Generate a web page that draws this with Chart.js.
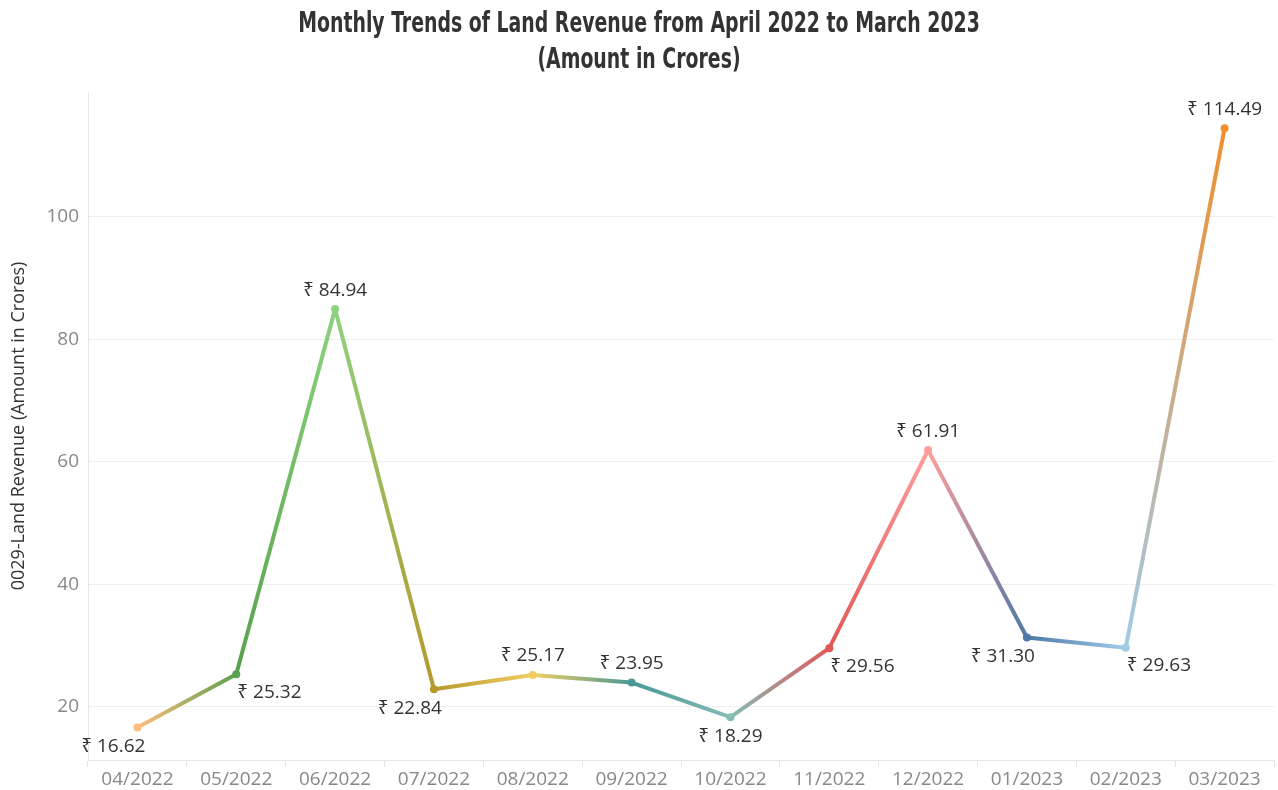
<!DOCTYPE html>
<html>
<head>
<meta charset="utf-8">
<script src="https://cdn.jsdelivr.net/npm/chart.js@4"></script>
<style>
  html,body{margin:0;padding:0;background:#fff;}
  #wrap{width:1278px;height:790px;}
</style>
</head>
<body>
<div id="wrap"><canvas id="mainChart" width="1278" height="790"></canvas></div>
<script>
const months = ['04/2022','05/2022','06/2022','07/2022','08/2022','09/2022','10/2022','11/2022','12/2022','01/2023','02/2023','03/2023'];
const revenue = [16.62, 25.32, 84.94, 22.84, 25.17, 23.95, 18.29, 29.56, 61.91, 31.30, 29.63, 114.49];
const yTicks = [20, 40, 60, 80, 100];
const yMin = 11.3, yMax = 120.4;
const titleLines = ['Monthly Trends of Land Revenue from April 2022 to March 2023','(Amount in Crores)'];

// one colour per month, segments blend between neighbours
const monthColors = ['#ffbe7d','#59a14f','#8cd17d','#b6992d','#f1ce63','#499894','#86bcb6','#e15759','#ff9d9a','#4e79a7','#a0cbe8','#f28e2b'];
// where each value label sits: t = above, b = below, bl = below left, br = below right
const labelSide = ['bl','br','t','bl','t','t','b','br','t','bl','br','t'];

const canvas = document.getElementById('mainChart');
const c2d = canvas.getContext('2d');
const textFamily = '"Open Sans", "Noto Sans", sans-serif';

const valueLabels = {
  id:'valueLabels',
  afterDatasetsDraw(chart){
    const ctx = chart.ctx;
    const meta = chart.getDatasetMeta(0);
    ctx.save();
    ctx.font = '19px ' + textFamily;
    ctx.fillStyle = '#333';
    ctx.textBaseline = 'middle';
    meta.data.forEach((pt,i)=>{
      const txt = '₹ ' + revenue[i].toFixed(2);
      const side = labelSide[i];
      let x = pt.x, y = pt.y;
      if(side==='t'){ ctx.textAlign='center'; y -= 19; }
      else if(side==='b'){ ctx.textAlign='center'; y += 19; }
      else if(side==='br'){ ctx.textAlign='left'; x += 1; y += 18; }
      else { ctx.textAlign='right'; x += 8; y += 19; }
      ctx.fillText(txt, x, y);
    });
    ctx.restore();
  }
};

// condensed bold title, squeezed horizontally
const narrowTitle = {
  id:'narrowTitle',
  afterDraw(chart){
    const ctx = chart.ctx;
    ctx.save();
    ctx.font = 'bold 28px "DejaVu Sans Condensed", "DejaVu Sans", sans-serif';
    ctx.fillStyle = '#333';
    ctx.textAlign = 'center';
    ctx.textBaseline = 'middle';
    const cx = chart.width/2;
    ctx.translate(cx, 0);
    ctx.scale(0.75, 1);
    ctx.fillText(titleLines[0], 0, 25);
    ctx.fillText(titleLines[1], 0, 61);
    ctx.restore();
  }
};

new Chart(canvas,{
  type:'line',
  data:{
    labels:months,
    datasets:[{
      data:revenue,
      borderWidth:4,
      pointRadius:4,
      pointHoverRadius:4,
      pointBackgroundColor:monthColors,
      pointBorderColor:monthColors,
      pointBorderWidth:0,
      tension:0,
      segment:{
        borderColor:c=>{
          const g = c2d.createLinearGradient(c.p0.x,c.p0.y,c.p1.x,c.p1.y);
          g.addColorStop(0, monthColors[c.p0DataIndex]);
          g.addColorStop(1, monthColors[c.p1DataIndex]);
          return g;
        }
      }
    }]
  },
  options:{
    responsive:false,
    animation:false,
    layout:{padding:{right:2,left:0,top:92,bottom:0}},
    plugins:{
      legend:{display:false},
      tooltip:{enabled:false},
      title:{display:false}
    },
    scales:{
      x:{
        offset:true,
        grid:{display:true, drawOnChartArea:false, drawTicks:true, tickLength:7, color:'#e6e6e6', offset:true},
        border:{display:true, color:'#e6e6e6'},
        ticks:{color:'#888', font:{family:textFamily, size:19}, padding:1, maxRotation:0, autoSkip:false},
        afterFit(s){ s.height = 30; }
      },
      y:{
        min:yMin, max:yMax,
        afterBuildTicks(s){ s.ticks = yTicks.map(v=>({value:v})); },
        grid:{color:'#efefef', drawTicks:false},
        border:{display:true, color:'#e6e6e6'},
        ticks:{color:'#888', font:{family:textFamily, size:19}, padding:9},
        title:{display:true, text:'0029-Land Revenue (Amount in Crores)', color:'#333', font:{family:textFamily, size:18}, padding:{top:8,bottom:0}},
        afterFit(s){ s.width = 88; }
      }
    }
  },
  plugins:[valueLabels, narrowTitle]
});
</script>
</body>
</html>
